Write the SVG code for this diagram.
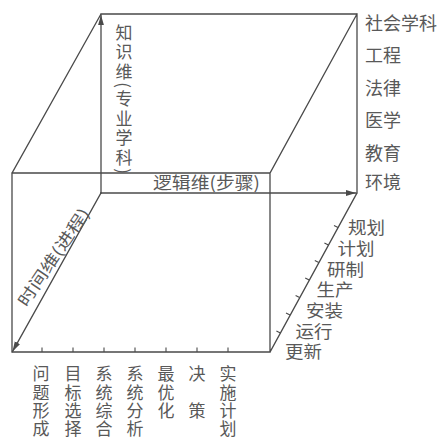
<svg xmlns="http://www.w3.org/2000/svg" width="444" height="439" viewBox="0 0 444 439">
<defs>
<marker id="arr" markerUnits="userSpaceOnUse" markerWidth="10" markerHeight="7" refX="10" refY="3.5" orient="auto">
<path d="M0,0.6 L10,3.5 L0,6.4 Z" fill="#4a4a4a"/>
</marker>
<style>
.ln{stroke:#4a4a4a;stroke-width:1.3;fill:none;stroke-linecap:square}
.tk{stroke:#4a4a4a;stroke-width:1.1;fill:none}
.t{font-family:"Noto Sans CJK SC","Noto Sans CJK JP",sans-serif;fill:#595959}
.b{font-size:17px;text-anchor:middle}
.r{font-size:18px}
.d{font-size:17px}
</style>
</defs>
<rect width="444" height="439" fill="#fff"/>
<g id="cube">
<path class="ln" d="M101,14 H357 V193 M12,173 H270 V352 H12 Z M12,173 L101,14 M270,173 L357,14 M270,352 L357,193"/>
</g>
<g id="connectors">
<line id="knowledge-axis" class="ln" x1="101" y1="193" x2="101" y2="15" marker-end="url(#arr)"/>
<line id="logic-axis" class="ln" x1="101" y1="193" x2="356" y2="193" marker-end="url(#arr)"/>
<line id="time-axis" class="ln" x1="101" y1="193" x2="12.5" y2="351.5" marker-end="url(#arr)"/>
</g>
<g id="ticks">
<path class="tk" d="M42,352 V347.5 M73,352 V347.5 M104,352 V347.5 M135,352 V347.5 M166,352 V347.5 M197,352 V347.5 M228,352 V347.5"/>
<path class="tk" d="M280.4,333 l-4,-2 M290,315 l-4,-2 M299.6,297.5 l-4,-2 M309.2,280 l-4,-2 M318.8,262.5 l-4,-2 M328.4,245 l-4,-2 M338,227.5 l-4,-2"/>
</g>
<g id="knowledge-label">
<text class="t" x="124" y="24" font-size="17" style="writing-mode:vertical-rl;text-orientation:mixed" textLength="150" lengthAdjust="spacing">知识维(专业学科)</text>
</g>
<g id="logic-label">
<text class="t" x="153" y="188.5" font-size="17" textLength="107" lengthAdjust="spacingAndGlyphs">逻辑维(步骤)</text>
</g>
<g id="time-label">
<text class="t" transform="translate(52.6,256.5) rotate(-56)" x="0" y="0" font-size="16" text-anchor="middle" dominant-baseline="central" textLength="114" lengthAdjust="spacingAndGlyphs">时间维(进程)</text>
</g>
<g id="knowledge-items">
<text class="t r" x="365" y="30">社会学科</text>
<text class="t r" x="365" y="62">工程</text>
<text class="t r" x="365" y="95">法律</text>
<text class="t r" x="365" y="127">医学</text>
<text class="t r" x="365" y="160">教育</text>
<text class="t r" x="365" y="189">环境</text>
</g>
<g id="time-items">
<text class="t d" x="348" y="234" textLength="37" lengthAdjust="spacingAndGlyphs">规划</text>
<text class="t d" x="337.5" y="254.5" textLength="37" lengthAdjust="spacingAndGlyphs">计划</text>
<text class="t d" x="327" y="275.5" textLength="37" lengthAdjust="spacingAndGlyphs">研制</text>
<text class="t d" x="316.5" y="296" textLength="37" lengthAdjust="spacingAndGlyphs">生产</text>
<text class="t d" x="306" y="316.5" textLength="37" lengthAdjust="spacingAndGlyphs">安装</text>
<text class="t d" x="295.5" y="337.5" textLength="37" lengthAdjust="spacingAndGlyphs">运行</text>
<text class="t d" x="285" y="358" textLength="37" lengthAdjust="spacingAndGlyphs">更新</text>
</g>
<g id="logic-items">
<text class="t b" x="41 41 41 41" y="379.5 398.5 416.5 434.5">问题形成</text>
<text class="t b" x="73 73 73 73" y="379.5 398.5 416.5 434.5">目标选择</text>
<text class="t b" x="104 104 104 104" y="379.5 398.5 416.5 434.5">系统综合</text>
<text class="t b" x="135 135 135 135" y="379.5 398.5 416.5 434.5">系统分析</text>
<text class="t b" x="166 166 166" y="379.5 398.5 416.5">最优化</text>
<text class="t b" x="197 197" y="379.5 416.5">决策</text>
<text class="t b" x="228 228 228 228" y="379.5 398.5 416.5 434.5">实施计划</text>
</g>
</svg>
